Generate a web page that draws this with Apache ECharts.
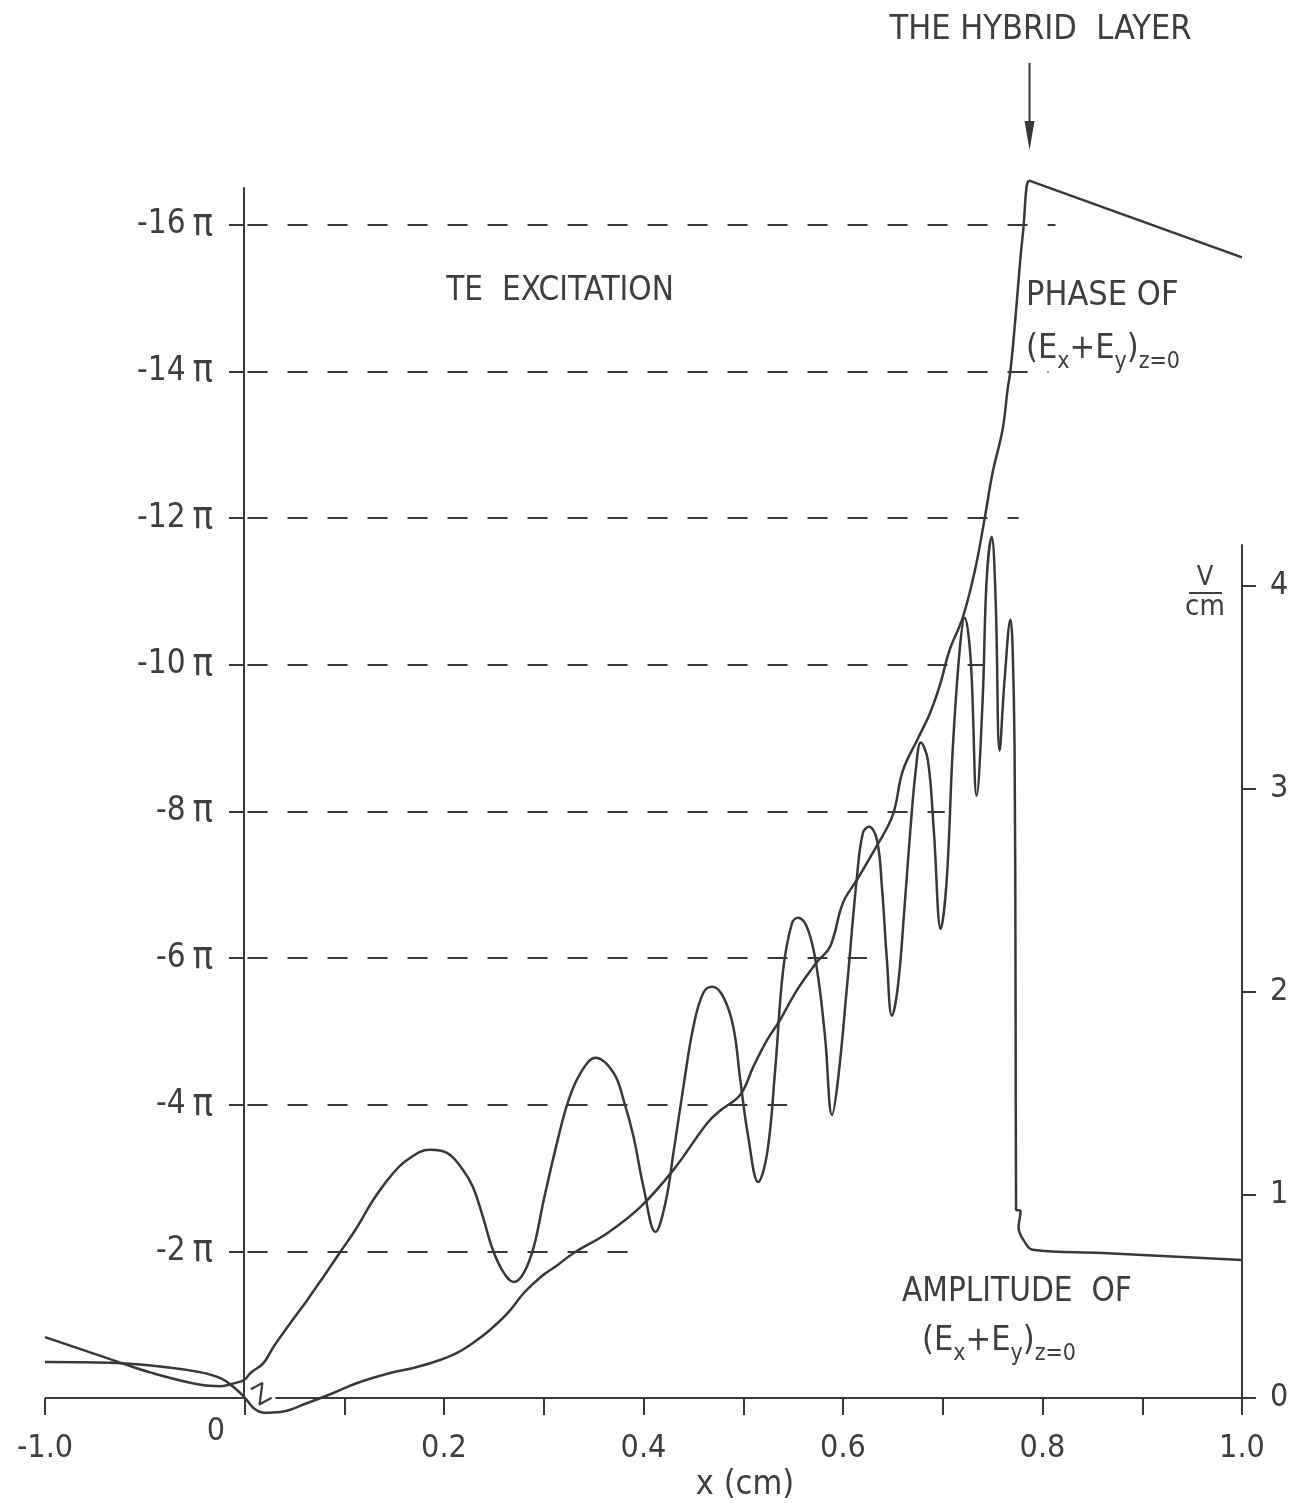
<!DOCTYPE html>
<html><head><meta charset="utf-8">
<script src="https://cdn.jsdelivr.net/npm/echarts@6/dist/echarts.min.js"></script>
<style>html,body{margin:0;padding:0;background:#fff}#c{width:1294px;height:1503px}</style>
</head><body><div id="c"></div>
<script>
// ---- data (x in cm; phase in units of pi; amplitude in V/cm) ----
const ampX = [-1.0,-0.67,-0.47,-0.22,-0.12,-0.055,0,
  0.006,0.019,0.029,0.046,0.063,0.079,0.096,0.113,0.129,0.146,0.163,0.186,0.203,0.219,0.229,0.239,0.249,0.26,0.27,0.28,0.29,0.30,
  0.314,0.325,0.337,0.352,0.37,0.38,0.39,0.40,0.412,0.422,0.43,0.44,0.45,0.46,0.469,0.48,0.49,0.497,0.505,0.515,0.524,0.532,0.54,
  0.549,0.555,0.565,0.574,0.582,0.589,0.595,0.604,0.614,0.62,0.626,0.634,0.639,0.644,0.649,0.655,0.662,0.667,0.673,0.678,0.685,
  0.691,0.698,0.704,0.71,0.717,0.722,0.728,0.734,0.74,0.744,0.749,0.753,0.757,0.762,0.768,0.770,0.772,0.773,0.7735,0.778,0.776,
  0.782,0.79,0.86,1.0];
const ampV = [0.30,0.19,0.125,0.065,0.058,0.072,0.09,
  0.123,0.172,0.251,0.369,0.483,0.596,0.719,0.842,0.975,1.089,1.172,1.222,1.207,1.123,1.039,0.892,0.729,0.616,0.571,0.616,0.744,0.975,
  1.271,1.468,1.601,1.675,1.601,1.468,1.286,1.039,0.818,0.961,1.207,1.532,1.828,1.995,2.025,1.975,1.828,1.567,1.286,1.064,1.207,1.616,2.108,
  2.34,2.365,2.305,2.108,1.778,1.394,1.567,2.025,2.567,2.783,2.813,2.749,2.517,2.158,1.882,2.025,2.438,2.764,3.094,3.227,3.143,
  2.798,2.31,2.552,3.192,3.685,3.842,3.635,2.966,3.438,4.03,4.241,3.931,3.187,3.537,3.833,3.7,3.2,2.0,0.93,0.92,0.84,
  0.77,0.73,0.714,0.68];
const phaseX = [-1.0,-0.67,-0.39,-0.22,-0.12,-0.055,0,
  0.009,0.019,0.036,0.063,0.089,0.113,0.146,0.173,0.196,0.213,0.229,0.246,0.264,0.28,0.297,0.314,0.33,0.364,0.397,0.43,0.464,0.477,
  0.497,0.51,0.524,0.537,0.554,0.574,0.587,0.60,0.614,0.634,0.65,0.66,0.675,0.687,0.697,0.707,0.72,0.732,0.742,0.75,0.76,0.765,
  0.768,0.773,0.778,0.781,0.784,0.786,1.0];
const phaseV = [-0.49,-0.48,-0.42,-0.35,-0.27,-0.15,-0.01,
  0.136,0.2,0.19,0.068,-0.068,-0.205,-0.341,-0.423,-0.518,-0.614,-0.75,-0.928,-1.16,-1.432,-1.651,-1.814,-1.978,-2.251,-2.606,-3.111,-3.75,-3.92,
  -4.134,-4.516,-4.884,-5.157,-5.566,-5.948,-6.153,-6.753,-7.067,-7.531,-7.954,-8.554,-8.99,-9.332,-9.714,-10.205,-10.641,-11.269,-11.992,-12.62,-13.206,-13.752,
  -14.025,-14.748,-15.566,-15.975,-16.521,-16.603,-15.553];
const phaseLevels = [-16,-14,-12,-10,-8,-6,-4,-2];
const dashEnds = [0.813,0.806,0.776,0.742,0.702,0.624,0.544,0.384];
const xTickValues = [-1.0,0,0.1,0.2,0.3,0.4,0.5,0.6,0.7,0.8,0.9,1.0];
const xLabelValues = [-1.0,0.2,0.4,0.6,0.8,1.0];
const ampTicks = [0,1,2,3,4];
const hybridX = 0.787;
const axisGapEnd = 0.031;

// scale break: x<0 compressed 5x
function tx(x){ return x < 0 ? x * 0.2 : x; }
function ux(u){ return u < 0 ? u / 0.2 : u; }

const LINE = '#383838', TEXT = '#3e3e3e';
const FONT = '"Liberation Sans Narrow", "DejaVu Sans Condensed", "Liberation Sans", Arial, sans-serif';

// split phase at its peak so the straight post-peak segment is not smoothed
let peakIdx = 0;
phaseV.forEach((v,i) => { if (v < phaseV[peakIdx]) peakIdx = i; });
const phaseData = phaseX.map((x,i) => [tx(x), phaseV[i]]);
const phaseRise = phaseData.slice(0, peakIdx + 1);
const phaseFall = phaseData.slice(peakIdx);

const chart = echarts.init(document.getElementById('c'), null, {renderer:'canvas'});
const gridBase = {right: 52, bottom: 105, outerBoundsMode: 'none', containLabel: false};
const option = {
  backgroundColor: '#ffffff',
  animation: false,
  grid: [
    Object.assign({left: 244, top: 188}, gridBase),   // phase axis display
    Object.assign({left: 45, top: 188}, gridBase),    // phase data + x axis
    Object.assign({left: 45, top: 545}, gridBase)     // amplitude
  ],
  xAxis: [
    {type:'value', gridIndex:0, min:0, max:1.0, show:false},
    {type:'value', gridIndex:1, min:-0.2, max:1.0,
     axisLine:{show:false},
     axisTick:{show:true, customValues: xTickValues.map(tx), length:17, lineStyle:{color:LINE, width:2}},
     axisLabel:{show:true, customValues: xLabelValues.map(tx), margin:35, color:TEXT, fontSize:32, fontFamily:FONT,
       formatter: v => ux(v).toFixed(1)},
     splitLine:{show:false}},
    {type:'value', gridIndex:2, min:-0.2, max:1.0, show:false}
  ],
  yAxis: [
    {type:'value', gridIndex:0, min:-16.5, max:0, inverse:true, position:'left',
     axisLine:{show:true, onZero:false, lineStyle:{color:LINE, width:2}},
     axisTick:{show:true, customValues: phaseLevels, length:15, lineStyle:{color:LINE, width:2}},
     axisLabel:{show:true, customValues: phaseLevels, margin:31, color:TEXT, fontFamily:FONT,
       formatter: v => '{n|' + v + '}{p|\u2009π}',
       rich:{n:{fontSize:33, fontFamily:FONT, color:TEXT}, p:{fontSize:38, fontFamily:FONT, color:TEXT}}},
     splitLine:{show:false}},
    {type:'value', gridIndex:1, min:-16.5, max:0, inverse:true, show:false},
    {type:'value', gridIndex:2, min:0, max:4.2, position:'right',
     axisLine:{show:true, onZero:false, lineStyle:{color:LINE, width:2}},
     axisTick:{show:true, customValues: ampTicks, length:14, lineStyle:{color:LINE, width:2}},
     axisLabel:{show:true, customValues: ampTicks, margin:28, color:TEXT, fontSize:32, fontFamily:FONT},
     splitLine:{show:false}}
  ],
  series: [
    {type:'line', name:'phase', xAxisIndex:1, yAxisIndex:1, symbol:'none', smooth:0.4, clip:false, z:3,
     lineStyle:{color:LINE, width:2.5}, data: phaseRise},
    {type:'line', name:'phase2', xAxisIndex:1, yAxisIndex:1, symbol:'none', smooth:false, clip:false, z:3,
     lineStyle:{color:LINE, width:2.5}, data: phaseFall},
    {type:'line', name:'amplitude', xAxisIndex:2, yAxisIndex:2, symbol:'none', smooth:0.4, clip:false, z:3,
     lineStyle:{color:LINE, width:2.5},
     data: ampX.map((x,i) => [tx(x), ampV[i]])},
    {type:'line', name:'levels', xAxisIndex:1, yAxisIndex:1, symbol:'none', showSymbol:false, clip:false,
     lineStyle:{opacity:0}, data:[[0,0]],
     markLine:{silent:true, symbol:['none','none'], label:{show:false}, animation:false,
       lineStyle:{type:[20,20], dashOffset:37, color:LINE, width:2},
       emphasis:{disabled:true},
       data: phaseLevels.map((lv,i) => [{coord:[0, lv]}, {coord:[tx(dashEnds[i]), lv]}])}},
    {type:'line', name:'xaxis', xAxisIndex:1, yAxisIndex:1, symbol:'none', showSymbol:false, clip:false,
     lineStyle:{opacity:0}, data:[[0,0]],
     markLine:{silent:true, symbol:['none','none'], label:{show:false}, animation:false,
       lineStyle:{type:'solid', color:LINE, width:2},
       emphasis:{disabled:true},
       data: [[{coord:[tx(-1.0),0]},{coord:[0,0]}],[{coord:[axisGapEnd,0]},{coord:[1.0,0]}]]}}
  ]
};
chart.setOption(option);

const P = (x, y) => chart.convertToPixel({gridIndex:1}, [tx(x), y]);
const ax = P(hybridX, 0)[0];
function txt(text, x, y, size, align, extra) {
  return Object.assign({type:'text', x:x, y:y, z:10, style:{text:text, font: size + 'px ' + FONT, fill:TEXT,
    textAlign:align||'center', align:align||'center', textVerticalAlign:'middle', verticalAlign:'middle'}}, extra||{});
}
function sub(x, y, align) {
  const rich = {
    m:{fontSize:34, fontFamily:FONT, lineHeight:36, verticalAlign:'top', fill:TEXT, color:TEXT},
    s:{fontSize:23, fontFamily:FONT, lineHeight:23, padding:[19,0,0,0], verticalAlign:'top', fill:TEXT, color:TEXT}
  };
  return {type:'text', x:x, y:y, z:10, style:{text:'{m|(E}{s|x}{m|+E}{s|y}{m|)}{s|z=0}', rich:rich,
    font:'34px ' + FONT, fill:TEXT, textAlign:align, align:align, textVerticalAlign:'middle', verticalAlign:'middle'}};
}
const zPos = P(0.018, 0);
chart.setOption({graphic: [
  txt('THE HYBRID  LAYER', ax + 11, 30, 34),
  {type:'line', z:10, shape:{x1:ax, y1:63, x2:ax, y2:126}, style:{stroke:LINE, lineWidth:2}},
  {type:'polygon', z:10, shape:{points:[[ax-5,121],[ax+5,121],[ax,150]]}, style:{fill:LINE}},
  txt('TE  EXCITATION', 560, 291, 33),
  txt('PHASE OF', 1026, 296, 34, 'left'),
  sub(1026, 350, 'left'),
  txt('AMPLITUDE  OF', 902, 1292, 33, 'left'),
  sub(922, 1342, 'left'),
  txt('V', 1205, 578, 27),
  {type:'line', z:10, shape:{x1:1189, y1:593, x2:1222, y2:593}, style:{stroke:TEXT, lineWidth:2}},
  txt('cm', 1205, 607, 29),
  txt('x (cm)', 745, 1485, 34),
  txt('0', 216, 1432, 32),
  txt('Z', zPos[0], zPos[1] - 2, 27, 'center', {rotation:0.5})
]});
</script></body></html>
